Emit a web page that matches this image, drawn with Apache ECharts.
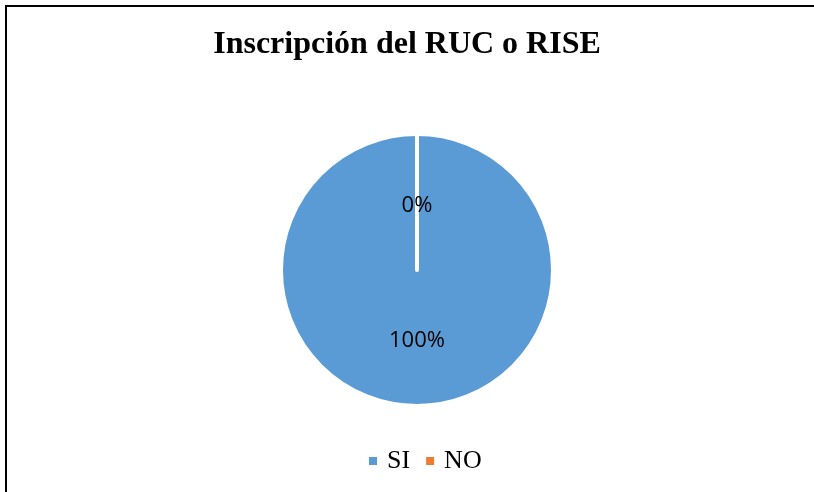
<!DOCTYPE html>
<html>
<head>
<meta charset="utf-8">
<title>Inscripción del RUC o RISE</title>
<script src="https://cdn.jsdelivr.net/npm/echarts@6/dist/echarts.min.js"></script>
<style>
  html, body { margin: 0; padding: 0; background: #ffffff; }
  #chart { width: 814px; height: 492px; }
</style>
</head>
<body>
<div id="chart"></div>
<script>
  var categories = ['SI', 'NO'];
  var values = [100, 0];
  var colors = ['#5B9BD5', '#ED7D31'];

  var chart = echarts.init(document.getElementById('chart'));

  // the empty slice label sits a bit nearer the centre in the original
  var labelOffsets = { NO: [0, 7] };

  var data = [];
  for (var i = 0; i < categories.length; i++) {
    var item = { name: categories[i], value: values[i], itemStyle: { color: colors[i] } };
    if (labelOffsets[categories[i]]) {
      item.label = { offset: labelOffsets[categories[i]] };
    }
    data.push(item);
  }

  chart.setOption({
    animation: false,
    title: {
      text: 'Inscripción del RUC o RISE',
      left: 'center',
      top: 24,
      textStyle: {
        fontFamily: 'Liberation Serif',
        fontWeight: 'bold',
        fontSize: 32,
        color: '#000000'
      }
    },
    legend: {
      data: categories,
      bottom: 13,
      left: 364,
      itemWidth: 8,
      itemHeight: 8,
      itemGap: 16,
      icon: 'rect',
      itemStyle: { borderWidth: 0 },
      textStyle: {
        fontFamily: 'Liberation Serif',
        fontSize: 26,
        color: '#000000',
        padding: [0, 0, 0, 5]
      }
    },
    graphic: [{
      type: 'rect',
      shape: { x: 6, y: 6, width: 830, height: 510 },
      style: { fill: null, stroke: '#000000', lineWidth: 2 },
      silent: true
    }],
    series: [{
      type: 'pie',
      center: [417, 270],
      radius: [0, 136],
      startAngle: 90,
      clockwise: true,
      avoidLabelOverlap: false,
      itemStyle: {
        borderColor: '#ffffff',
        borderWidth: 4,
        borderCap: 'round'
      },
      label: {
        show: true,
        position: 'inside',
        formatter: function (p) { return Math.round(p.percent) + '%'; },
        fontFamily: 'Open Sans',
        fontSize: 22,
        color: '#000000'
      },
      labelLine: { show: false },
      emphasis: { disabled: true },
      data: data
    }]
  });
</script>
</body>
</html>
